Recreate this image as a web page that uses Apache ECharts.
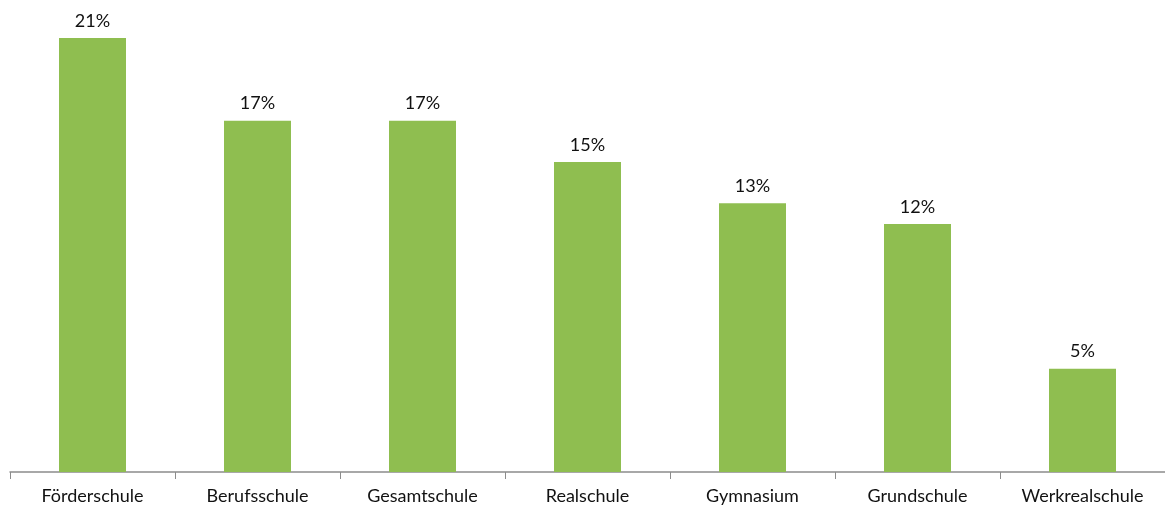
<!DOCTYPE html>
<html>
<head>
<meta charset="utf-8">
<script src="https://cdn.jsdelivr.net/npm/echarts@6/dist/echarts.min.js"></script>
<style>
  html, body { margin: 0; padding: 0; background: #ffffff; }
  #chart { width: 1165px; height: 509px; }
</style>
</head>
<body>
<div id="chart"></div>
<script>
// Schularten und Anteile in Prozent
const categories = ['Förderschule', 'Berufsschule', 'Gesamtschule', 'Realschule', 'Gymnasium', 'Grundschule', 'Werkrealschule'];
const shares = [21, 17, 17, 15, 13, 12, 5];

const chart = echarts.init(document.getElementById('chart'));
chart.setOption({
  animation: false,
  grid: { left: 10, width: 1160, top: 38, bottom: 37, containLabel: false },
  xAxis: {
    type: 'category',
    data: categories,
    axisLine: { lineStyle: { color: '#8c8c8c', width: 1.5 } },
    axisTick: { show: true, length: 7, lineStyle: { color: '#8c8c8c' } },
    axisLabel: { color: '#111111', fontFamily: 'Lato', fontSize: 18, margin: 15 }
  },
  yAxis: {
    type: 'value',
    min: 0,
    max: 21,
    show: false,
    splitLine: { show: false }
  },
  series: [{
    type: 'bar',
    data: shares,
    barWidth: 67,
    itemStyle: { color: '#8fbe50' },
    label: {
      show: true,
      position: 'top',
      distance: 8,
      formatter: p => p.value + '%',
      color: '#111111',
      fontFamily: 'Lato',
      fontSize: 18
    }
  }]
});
</script>
</body>
</html>
